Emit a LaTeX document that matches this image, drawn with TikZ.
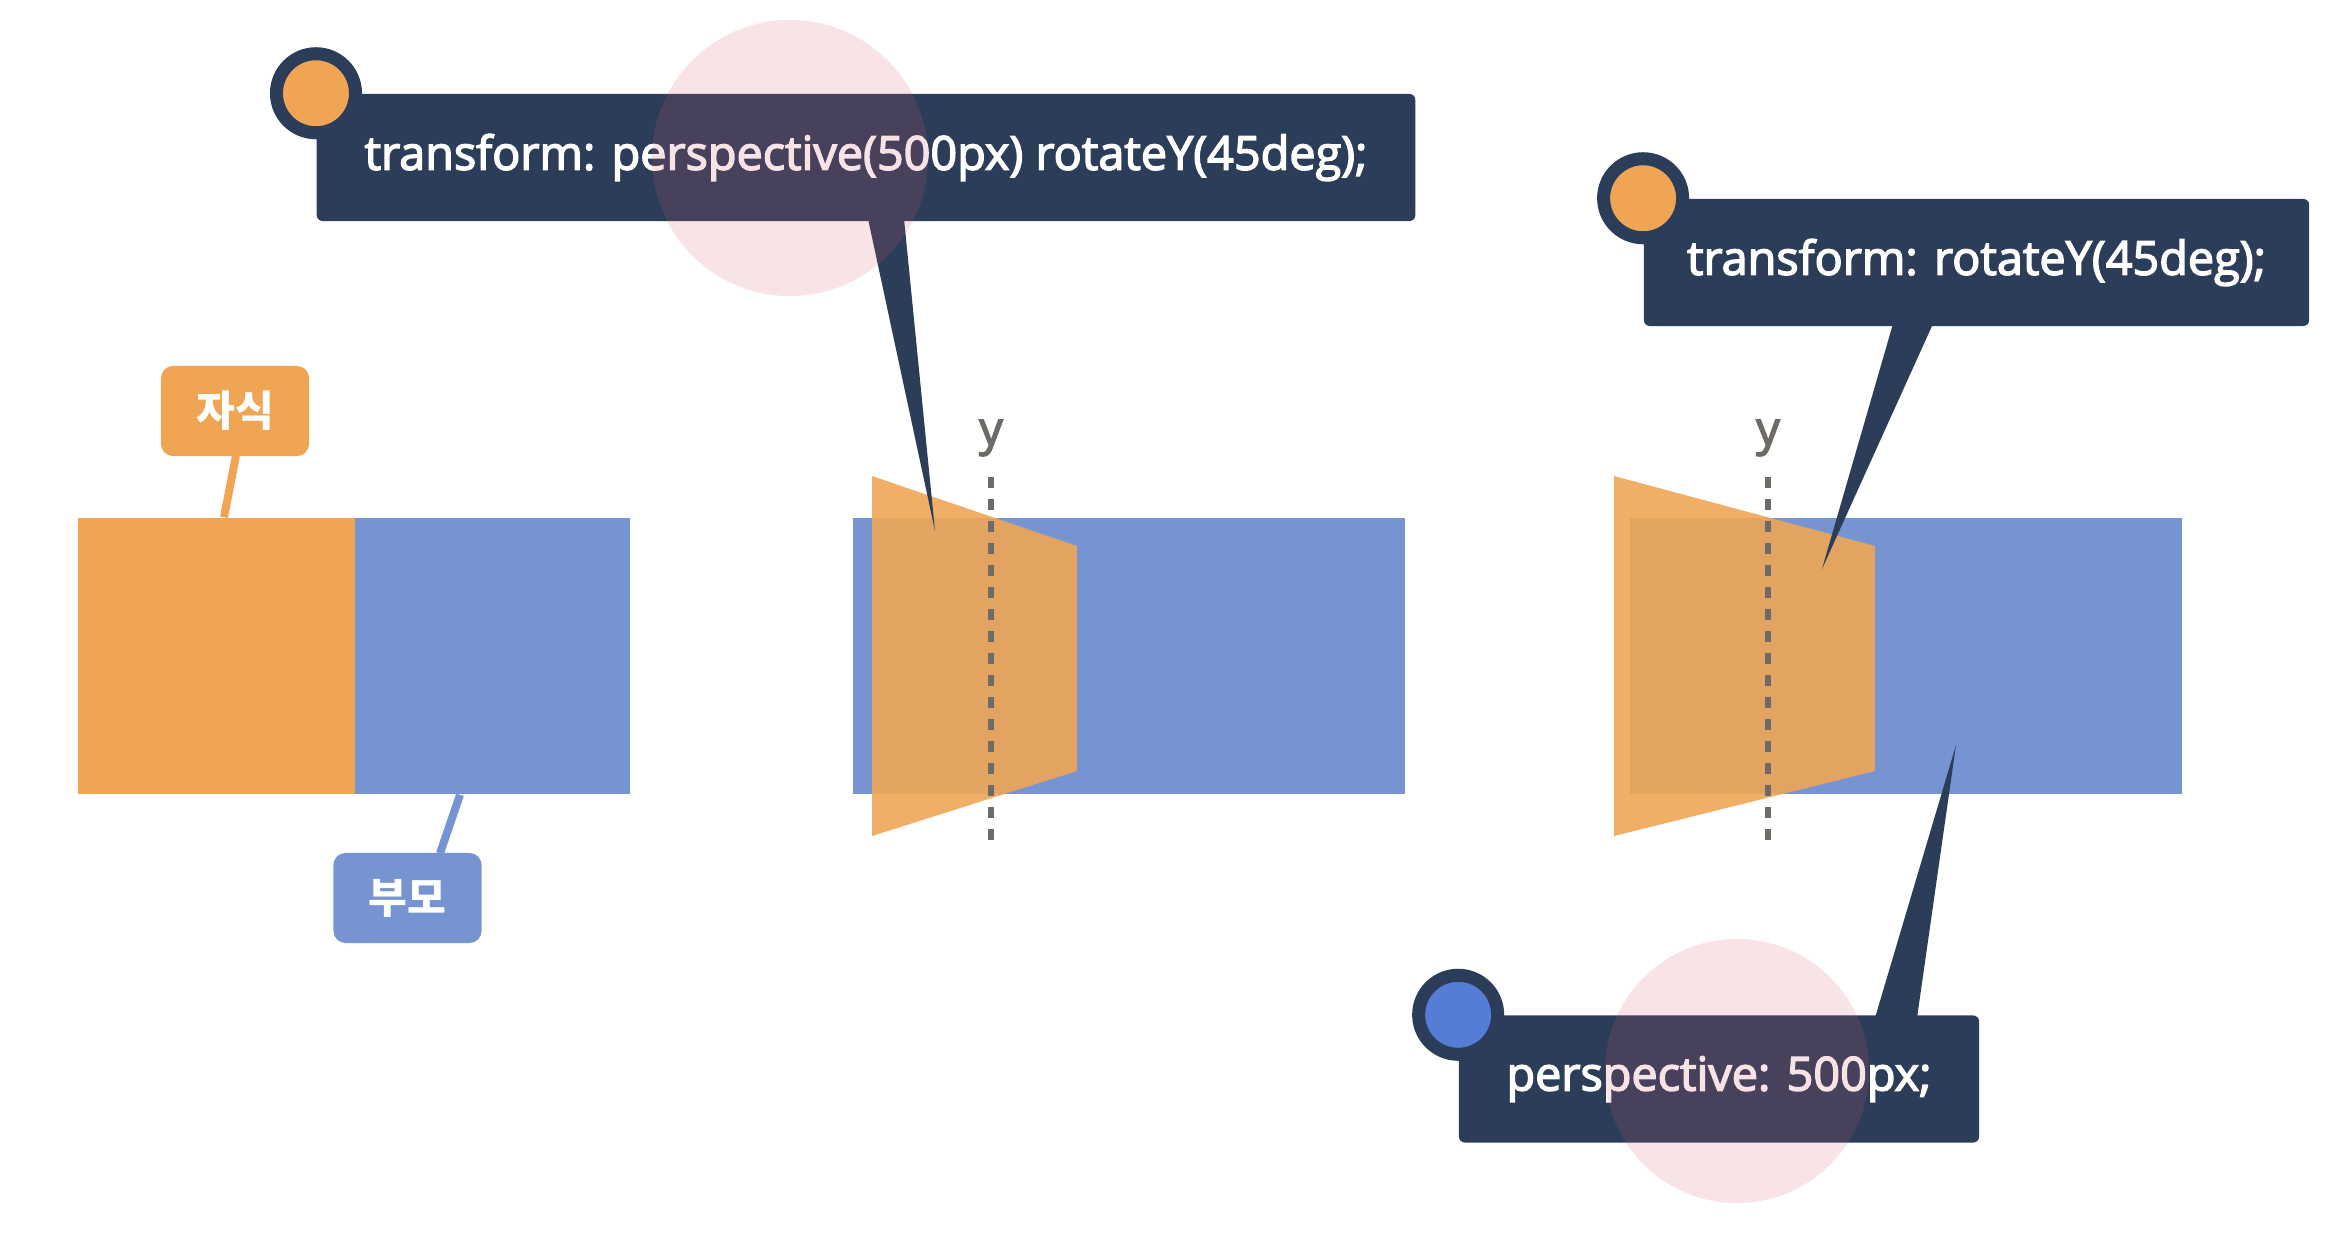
\documentclass[tikz,border=0pt]{standalone}
\usepackage{fontspec}
\setmainfont{Open Sans}
\newfontfamily\codefont{Open Sans}[FakeBold=3]
\newfontfamily\krfont{Noto Sans CJK KR}
\usetikzlibrary{positioning, calc}
\definecolor{codenavy}{RGB}{43,61,89}
\definecolor{childorange}{RGB}{240,165,85}
\definecolor{parentblue}{RGB}{117,148,209}
\definecolor{dotblue}{RGB}{86,125,214}
\definecolor{axisgray}{RGB}{110,106,102}
\definecolor{spotpink}{RGB}{212,90,105}
\tikzset{
  parentbox/.style={fill=parentblue, minimum width=5.52cm, minimum height=2.76cm, inner sep=0},
  childbox/.style={fill=childorange, minimum width=2.77cm, minimum height=2.76cm, inner sep=0},
  codebox/.style={fill=codenavy, text=white, rounded corners=0.06cm, minimum height=1.27cm, inner sep=0, font=\codefont\fontsize{13.3pt}{15pt}\selectfont},
  codedot/.style={circle, draw=codenavy, line width=0.13cm, minimum size=0.79cm, inner sep=0},
  tagbox/.style={text=white, rounded corners=0.12cm, minimum width=1.48cm, minimum height=0.9cm, inner sep=0, font=\krfont\bfseries\fontsize{12pt}{14pt}\selectfont},
  tagline/.style={line width=0.08cm},
  yaxis/.style={axisgray, line width=0.06cm, dash pattern=on 0.11cm off 0.11cm},
  axislabel/.style={text=axisgray, font=\codefont\fontsize{13.3pt}{15pt}\selectfont, inner sep=0},
  spot/.style={circle, fill=spotpink, opacity=.17, inner sep=0}
}
\begin{document}
\begin{tikzpicture}[x=0.01cm, y=-0.01cm]
  \useasboundingbox (0,0) rectangle (2346,1246);

  % left: parent with child, no transform
  \node[parentbox] (parentL) at (354,656) {};
  \node[childbox] (childL) at (216.5,656) {};
  \node[tagbox, fill=childorange] (tagChild) at (235,411) {자식};
  \node[tagbox, fill=parentblue] (tagParent) at (407.5,898) {부모};
  \draw[tagline, childorange] ($(tagChild.south)+(1,-1)$) -- ($(childL.north)+(7.5,0)$);
  \draw[tagline, parentblue] ($(parentL.south)+(106,0)$) -- ($(tagParent.north)+(32.5,1)$);

  % middle: perspective() inside transform
  \node[parentbox] (parentM) at (1129,656) {};
  \fill[childorange, opacity=.9] (872,476) -- (1077,546) -- (1077,771) -- (872,836) -- cycle;
  \coordinate (axTopM) at (991,477);
  \coordinate (axBotM) at (991,840);
  \draw[yaxis] (axTopM) -- (axBotM);
  \node[axislabel] (yLblM) at (991,438) {y};

  % right: perspective on parent
  \node[parentbox] (parentR) at (1906,656) {};
  \fill[childorange, opacity=.9] (1614,476) -- (1875,546) -- (1875,771) -- (1614,836) -- cycle;
  \coordinate (axTopR) at (1768,477);
  \coordinate (axBotR) at (1768,840);
  \draw[yaxis] (axTopR) -- (axBotR);
  \node[axislabel] (yLblR) at (1768,438) {y};

  % callouts
  \node[codebox, minimum width=10.98cm] (codeA) at (866,157.5) {transform: perspective(500px) rotateY(45deg);};
  \coordinate (tipA) at (935,531);
  \fill[codenavy] ($(codeA.south)+(2,-3)$) -- (tipA) -- ($(codeA.south)+(38,-3)$) -- cycle;
  \node[codedot, fill=childorange] (dotA) at (codeA.north west) {};

  \node[codebox, minimum width=6.65cm] (codeB) at (1976.5,262.5) {transform: rotateY(45deg);};
  \coordinate (tipB) at (1822,569);
  \fill[codenavy] ($(codeB.south)+(-83.5,-3)$) -- (tipB) -- ($(codeB.south)+(-43.5,-3)$) -- cycle;
  \node[codedot, fill=childorange] (dotB) at (codeB.north west) {};

  \node[codebox, minimum width=5.2cm] (codeC) at (1719,1079) {perspective: 500px;};
  \coordinate (tipC) at (1956,745);
  \fill[codenavy] ($(codeC.north)+(156,3)$) -- (tipC) -- ($(codeC.north)+(198,3)$) -- cycle;
  \node[codedot, fill=dotblue] (dotC) at (codeC.north west) {};

  % highlight spots
  \node[spot, minimum size=2.76cm] (spotA) at (790,158) {};
  \node[spot, minimum size=2.64cm] (spotC) at (1737,1071) {};
\end{tikzpicture}
\end{document}
